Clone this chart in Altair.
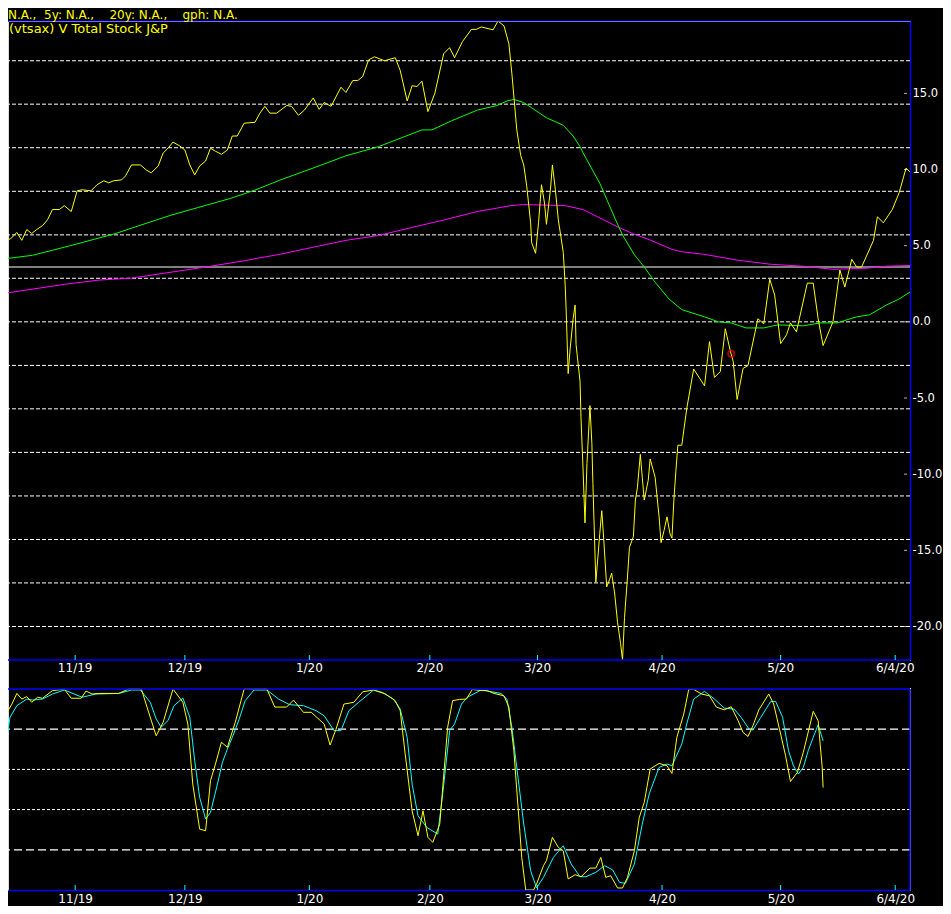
import altair as alt
import pandas as pd

# ---------------- data ----------------
# x unit: trading-session index (0 = left edge of the original chart, 160 = right edge)
PRICE_DAY = [0, 0.69, 1.74, 2.95, 3.82, 4.69, 5.56, 6.43, 7.47, 8.34, 9.21, 10.42, 11.29, 12.51, 13.55, 14.42,
             15.98, 17.03, 18.24, 19.11, 19.98, 21.37, 22.06, 23.11, 24.67, 25.71, 26.58, 27.80, 28.67, 29.53,
             30.40, 31.62, 32.49, 33.36, 34.22, 35.09, 36.14, 37.00, 37.87, 38.92, 39.96, 40.83, 41.70, 42.91,
             44.82, 45.69, 46.56, 47.43, 48.64, 50.38, 51.25, 52.47, 53.51, 55.07, 56.11, 56.98, 58.20, 59.94,
             60.81, 62.02, 62.89, 63.76, 64.80, 65.84, 67.58, 69.49, 70.36, 71.58, 72.45, 73.31, 74.18, 75.23,
             76.44, 78.00, 79.05, 79.92, 81.31, 82.87, 83.74, 84.61, 86.69, 87.56, 88.60, 89.47, 89.99, 90.86,
             91.56, 92.08, 92.60, 93.29, 93.47, 94.16, 94.68, 95.20, 95.73, 96.07, 96.77, 97.12, 97.64, 98.16,
             99.03, 99.37, 99.55, 99.89, 100.24, 100.76, 101.11, 101.28, 101.98, 102.15, 102.50, 102.85, 103.20,
             103.72, 104.06, 104.24, 104.76, 105.45, 105.80, 106.15, 106.67, 107.19, 107.54, 108.06, 108.58,
             109.10, 109.45, 109.80, 110.32, 110.67, 111.36, 111.71, 112.06, 112.58, 112.92, 113.27, 113.97,
             114.31, 115.18, 115.88, 116.23, 116.75, 117.27, 117.79, 118.14, 118.48, 118.83, 119.18, 119.87,
             120.74, 121.96, 123.87, 124.74, 125.61, 126.65, 127.52, 128.39, 128.91, 129.60, 130.64, 131.51,
             133.25, 134.29, 135.34, 136.20, 137.25, 138.29, 138.98, 140.03, 141.94, 142.98, 143.85, 144.72,
             146.45, 147.67, 148.54, 149.76, 150.62, 151.49, 153.58, 154.27, 155.31, 156.88, 158.09, 159.31, 160.0]
PRICE_VAL = [4.76, 5.67, 5.41, 5.87, 5.35, 6.06, 5.8, 6.06, 6.32, 6.7, 7.37, 7.37, 7.63, 7.24, 8.6, 8.67,
             8.6, 9.0, 9.26, 9.13, 9.26, 9.32, 9.58, 10.3, 10.3, 9.97, 9.78, 10.23, 11.08, 11.4,
             11.8, 11.54, 11.28, 10.3, 9.65, 10.23, 10.56, 11.4, 11.2, 11.0, 11.28, 12.2, 12.2, 13.04,
             13.1, 13.7, 14.15, 13.7, 13.7, 14.2, 14.15, 13.56, 13.9, 14.7, 13.95, 14.4, 14.15, 15.4,
             15.06, 15.84, 15.84, 16.1, 17.2, 17.4, 17.14, 17.34, 16.5, 14.5, 15.5, 15.45, 15.8, 13.8,
             15.0, 17.6, 18.0, 17.34, 18.4, 19.2, 19.2, 19.36, 19.17, 19.75, 19.43, 18.25, 16.3, 12.6,
             10.9, 10.3, 8.93, 6.5, 5.2, 4.5, 6.5, 9.0, 7.8, 6.4, 8.67, 10.3, 8.67, 6.7,
             4.56, 2.4, 0.65, -3.4, -1.76, 0.2, 1.1, -1.5, -3.9, -6.3, -9.6, -13.2, -9.3,
             -5.5, -8.0, -10.6, -17.1, -13.9, -12.4, -14.3, -17.4, -16.9, -16.5, -17.8, -19.75,
             -21.1, -22.2, -19.4, -16.75, -14.8, -14.1, -11.7, -10.9, -8.7, -10.2, -11.7, -10.4,
             -9.0, -10.2, -12.8, -14.5, -13.7, -12.8, -13.9, -14.2, -11.7, -9.8, -8.1, -8.1,
             -5.7, -3.1, -4.2, -1.3, -3.65, -3.26, -0.45, -1.9, -2.6, -5.1, -3.06, -2.87,
             0.2, -0.13, 2.8, 1.76, -1.43, -0.85, -0.07, -0.65, 2.54, 2.54, 0.2, -1.56,
             0.0, 3.4, 2.28, 4.1, 3.6, 3.6, 5.35, 6.9, 6.5, 7.37, 8.47, 10.1, 9.84]

MA_FAST_DAY = [0, 5.73, 9.21, 13.38, 17.37, 20.33, 24.32, 30.05, 34.75, 40.48, 43.43, 45.17, 49.17, 55.07,
               60.81, 66.54, 70.71, 74.18, 75.92, 79.39, 83.91, 87.39, 89.12, 90.34, 92.08, 96.07, 99.03,
               100.76, 101.98, 102.5, 105.45, 108.23, 109.45, 111.54, 113.27, 115.18, 117.62, 119.87, 123.87,
               126.30, 128.56, 131.16, 134.29, 136.73, 141.24, 144.20, 147.15, 150.62, 152.88, 155.84, 158.09, 160]
MA_FAST_VAL = [4.1, 4.37, 4.7, 5.1, 5.5, 5.8, 6.3, 7.0, 7.5, 8.1, 8.47, 8.7, 9.3, 10.1,
               10.9, 11.5, 12.1, 12.6, 12.6, 13.2, 13.9, 14.2, 14.5, 14.6, 14.4, 13.4, 12.9,
               12.2, 11.5, 11.1, 9.1, 6.7, 5.7, 4.4, 3.6, 2.6, 1.5, 0.8, 0.33,
               0.0, -0.07, -0.4, -0.4, -0.2, -0.26, -0.07, -0.07, 0.33, 0.46, 1.1, 1.5, 1.96]

MA_SLOW_DAY = [0, 5.73, 11.64, 17.37, 23.11, 29.01, 37.0, 43.43, 45.17, 49.17, 55.07, 60.81, 66.54, 72.45,
               78.18, 83.91, 89.82, 92.08, 99.37, 102.5, 108.23, 111.19, 114.14, 118.14, 119.87, 123.87,
               129.78, 135.51, 141.24, 146.45, 152.36, 155.84, 160]
MA_SLOW_VAL = [1.83, 2.15, 2.48, 2.74, 2.87, 3.2, 3.65, 4.04, 4.17, 4.43, 4.9, 5.35, 5.67, 6.2,
               6.7, 7.24, 7.63, 7.7, 7.63, 7.37, 6.3, 5.8, 5.4, 4.76, 4.6, 4.43,
               4.04, 3.78, 3.65, 3.45, 3.52, 3.65, 3.7]

REF_LEVEL = [3.6]
MARKER_DAY = [128.56]
MARKER_VAL = [-2.1]

PRICE_GRID = [-20.0, -17.14, -14.29, -11.43, -8.57, -5.71, -2.86, 0.0, 2.86, 5.71, 8.57, 11.43, 14.29, 17.14]
PRICE_TICKS = [-20, -15, -10, -5, 0, 5, 10, 15]

STOCH_K_DAY = [0, 0.87, 2.08, 2.95, 3.82, 4.69, 5.56, 6.60, 7.47, 9.21, 11.29, 12.51, 14.25, 15.11, 16.16,
               17.37, 20.85, 22.58, 24.84, 26.06, 27.45, 28.67, 30.40, 32.14, 33.01, 33.88, 35.09, 36.14,
               37.0, 37.87, 38.92, 39.96, 41.35, 42.91, 46.91, 48.30, 50.38, 51.60, 53.34, 54.72, 56.98,
               58.03, 59.07, 60.46, 62.20, 63.76, 65.67, 67.76, 69.49, 70.36, 71.23, 72.45, 73.49, 74.36,
               75.23, 76.09, 77.31, 78.70, 79.57, 80.78, 82.0, 83.04, 84.61, 85.65, 86.87, 88.6, 89.47,
               90.34, 91.21, 91.73, 92.43, 93.81, 94.34, 95.55, 96.07, 97.12, 98.16, 99.03, 99.89, 101.11,
               102.15, 103.72, 104.76, 105.63, 106.50, 107.37, 108.58, 109.45, 110.32, 111.53, 112.40,
               113.27, 114.31, 115.88, 117.27, 118.14, 119.0, 120.22, 121.09, 121.96, 123.35, 124.74,
               125.95, 127.34, 128.56, 129.78, 130.64, 131.51, 132.38, 133.42, 135.16, 136.03, 137.25,
               138.12, 138.98, 140.2, 141.24, 142.98, 143.85, 144.2, 144.54, 144.72]
STOCH_K_VAL = [69.3, 86.7, 92.5, 97.8, 95, 96.2, 93.4, 95.9, 95.4, 99.2, 99.9, 95.4, 95.4, 99, 97.5,
               97.8, 97.8, 100, 100, 89, 76.7, 83.4, 100, 93.4, 82.6, 52.7, 30.3, 29.5,
               54.4, 62.7, 73.5, 71, 83.4, 100, 100, 91, 91, 94.5, 88.4, 88.4, 82.6,
               72.1, 80, 92.5, 93.4, 98.6, 99.5, 97.5, 94.2, 89.2, 67.7, 39.4, 27, 39.4,
               26.2, 23.7, 32.8, 81, 94.2, 94.8, 95, 99.8, 99.2, 99.2, 97.8, 96.6, 91,
               69.3, 36.2, 16.2, 0, 0, 3, 12.1, 14.6, 26.2, 21.2, 19.5, 5.5, 7.6,
               6.6, 10.9, 10.9, 16.2, 6.3, 7.1, 1, 1, 6.3, 19.5, 36.2,
               43.6, 60.2, 63, 61.8, 58, 75.9, 87.6, 99.8, 99.8, 97.5, 96.6,
               91, 89.6, 91.2, 84.2, 78.4, 76.4, 81.7, 89.6, 97.5, 92.5, 77.6,
               66.8, 54, 58.5, 68.5, 88.9, 84.2, 72.6, 61.8, 51]

STOCH_D_DAY = [0, 0.87, 1.74, 2.95, 4.69, 5.73, 7.47, 9.21, 11.29, 14.42, 16.85, 20.85, 23.11, 24.67,
               26.41, 27.45, 28.32, 29.53, 30.58, 32.14, 33.36, 34.22, 35.09, 36.14, 37.0, 38.22, 39.09,
               39.96, 40.83, 42.04, 43.09, 44.65, 46.91, 48.99, 50.9, 53.34, 55.59, 56.98, 58.72, 59.94,
               61.33, 63.06, 65.67, 67.23, 69.14, 70.36, 71.58, 72.45, 73.49, 75.05, 76.96, 77.83, 79.05,
               79.92, 81.13, 82.17, 84.61, 88.08, 89.12, 89.99, 91.21, 92.08, 93.29, 94.34, 95.55, 97.29,
               99.03, 100.42, 101.98, 103.02, 104.76, 106.32, 107.71, 108.93, 109.97, 111.53, 112.92,
               114.14, 115.88, 117.27, 118.14, 119.87, 120.74, 121.96, 123.87, 125.61, 127.34, 129.08,
               130.3, 131.69, 132.38, 133.77, 135.51, 136.38, 137.6, 138.64, 139.5, 140.37, 141.24,
               142.11, 142.98, 143.85, 144.72]
STOCH_D_VAL = [49.8, 69.3, 85.9, 91.7, 95, 94.5, 95, 97.5, 99.5, 95.9, 97.5, 97.8, 99.5, 99.5,
               93.4, 85.1, 81, 84.3, 91.7, 95.5, 85.9, 64.3, 46.1, 35.3, 38.6, 52.7, 63.5,
               70.1, 75.9, 85, 94.2, 99.5, 99.5, 95, 92.2, 91.7, 89.2, 86.7, 79.3, 79.3,
               89.2, 93.4, 99.5, 98.3, 95, 90, 75.9, 52.7, 36.9, 31.1, 27.8, 47.8, 79.3,
               82.6, 92.5, 95.9, 99.5, 97.8, 95, 81, 52.7, 32.8, 9.6, 1, 6.3, 16.2,
               22, 12.9, 6.6, 6.6, 8.8, 12.1, 10, 3.8, 3.3, 12.9, 32.8,
               47.8, 61, 62.7, 61.8, 72.6, 82.6, 95, 98.8, 95, 90.5, 90,
               85.9, 80.1, 79.6, 85.9, 93.8, 93.8, 85.9, 69.3, 61.8, 57.7, 61,
               69.3, 75.9, 82.2, 74.2]

STOCH_BANDS = [80, 20]
STOCH_MIDS = [60, 40]

MONTH_TICK_DAY = [13.2, 32.49, 54.38, 75.57, 94.51, 116.4, 137.25, 157.4]
MONTH_TICK_LABEL = ["11/19", "12/19", "1/20", "2/20", "3/20", "4/20", "5/20", "6/4/20"]

NB = "\u00a0"
HEADER_1 = ["N.A.," + NB * 2 + "5y: N.A.," + NB * 4 + "20y: N.A.," + NB * 4 + "gph: N.A."]
HEADER_2 = ["(vtsax) V Total Stock J&P"]

# ---------------- layout / style ----------------
W = 902            # plot width (one plot area holding both panels)
H = 869            # plot height
TOP_H = 639        # price panel occupies 0..639
BOT_Y0 = 668       # oscillator panel occupies 668..869
BLUE = "#0000ff"
FONT = "DejaVu Sans"

xs = alt.Scale(domain=[1.39, 160], nice=False, zero=False)
ys_top = alt.Scale(domain=[-22.2, 19.75], range=[TOP_H, 0], nice=False, zero=False)
ys_bot = alt.Scale(domain=[0, 100], range=[H, BOT_Y0], nice=False, zero=False)

label_expr = "''"
for d, lab in reversed(list(zip(MONTH_TICK_DAY, MONTH_TICK_LABEL))):
    label_expr = f"abs(datum.value - {d}) < 0.5 ? '{lab}' : ({label_expr})"

x_axis = alt.Axis(orient="bottom", values=MONTH_TICK_DAY, labelExpr=label_expr, ticks=False, tickSize=0,
                  grid=False, domainColor=BLUE, domainWidth=1.5, labelColor="white", labelFont=FONT,
                  labelFontSize=12, labelPadding=3, labelFlush=False, labelOverlap=False, title=None)
y_axis_top = alt.Axis(orient="right", values=PRICE_TICKS,
                      labelExpr="datum.value < 0 ? '-' + format(-datum.value, '.1f') : format(datum.value, '.1f')",
                      ticks=False, tickSize=0, grid=False, domainColor=BLUE, domainWidth=1.5,
                      labelColor="white", labelFont=FONT, labelFontSize=11.5, labelPadding=2, title=None)

X = lambda f: alt.X(f"{f}:Q", scale=xs, axis=x_axis)
YT = lambda f, ax=None: (alt.Y(f"{f}:Q", scale=ys_top, axis=ax) if ax is not None
                          else alt.Y(f"{f}:Q", scale=ys_top, axis=None))
YB = lambda f: alt.Y(f"{f}:Q", scale=ys_bot, axis=None)

df_price = pd.DataFrame({"d": PRICE_DAY, "v": PRICE_VAL})
df_fast = pd.DataFrame({"d": MA_FAST_DAY, "v": MA_FAST_VAL})
df_slow = pd.DataFrame({"d": MA_SLOW_DAY, "v": MA_SLOW_VAL})
df_ref = pd.DataFrame({"v": REF_LEVEL})
df_marker = pd.DataFrame({"d": MARKER_DAY, "v": MARKER_VAL})
df_grid = pd.DataFrame({"v": PRICE_GRID})
df_yt = pd.DataFrame({"v": PRICE_TICKS})
df_mt = pd.DataFrame({"d": MONTH_TICK_DAY, "lab": MONTH_TICK_LABEL})
df_k = pd.DataFrame({"d": STOCH_K_DAY, "v": STOCH_K_VAL})
df_dd = pd.DataFrame({"d": STOCH_D_DAY, "v": STOCH_D_VAL})
df_bands = pd.DataFrame({"v": STOCH_BANDS})
df_mids = pd.DataFrame({"v": STOCH_MIDS})
df_h1 = pd.DataFrame({"t": HEADER_1})
df_h2 = pd.DataFrame({"t": HEADER_2})
df_one = pd.DataFrame({"a": [0]})

# ---------------- price panel ----------------
grid = alt.Chart(df_grid).mark_rule(color="white", strokeDash=[4, 2], strokeWidth=1).encode(
    y=YT("v", y_axis_top))
ref = alt.Chart(df_ref).mark_rule(color="white", strokeWidth=1.2).encode(y=YT("v"))
slow = alt.Chart(df_slow).mark_line(color="#ff00ff", strokeWidth=1, clip=True).encode(x=X("d"), y=YT("v"))
fast = alt.Chart(df_fast).mark_line(color="#00ff00", strokeWidth=1, clip=True).encode(x=X("d"), y=YT("v"))
price = alt.Chart(df_price).mark_line(color="#ffff00", strokeWidth=1, clip=True).encode(x=X("d"), y=YT("v"))
marker = alt.Chart(df_marker).mark_point(shape="circle", filled=False, color="#ff0000", size=40,
                                          strokeWidth=1.6).encode(x=X("d"), y=YT("v"))
ytick = alt.Chart(df_yt).mark_tick(color="white", thickness=1, size=3, orient="horizontal").encode(
    x=alt.value(W - 4.5), y=YT("v"))

# ---------------- oscillator panel ----------------
bands = alt.Chart(df_bands).mark_rule(color="white", strokeDash=[8, 4], strokeWidth=1.2).encode(y=YB("v"))
mids = alt.Chart(df_mids).mark_rule(color="white", strokeDash=[3, 2], strokeWidth=1).encode(y=YB("v"))
dline = alt.Chart(df_dd).mark_line(color="#00ffff", strokeWidth=1, clip=True).encode(x=X("d"), y=YB("v"))
kline = alt.Chart(df_k).mark_line(color="#ffff00", strokeWidth=1, clip=True).encode(x=X("d"), y=YB("v"))

# ---------------- frame, ticks, texts ----------------
gap_cover = alt.Chart(df_one).mark_rule(color="black", strokeWidth=5).encode(
    x=alt.value(W + 1), y=alt.value(TOP_H + 1), y2=alt.value(BOT_Y0 - 1))
line_top = alt.Chart(df_one).mark_rule(color=BLUE, strokeWidth=1).encode(y=alt.value(0))
line_mid1 = alt.Chart(df_one).mark_rule(color=BLUE, strokeWidth=1.5).encode(y=alt.value(TOP_H))
line_mid2 = alt.Chart(df_one).mark_rule(color=BLUE, strokeWidth=1.5).encode(y=alt.value(BOT_Y0))
line_right = alt.Chart(df_one).mark_rule(color=BLUE, strokeWidth=1.5).encode(
    x=alt.value(W), y=alt.value(BOT_Y0), y2=alt.value(H))
mtick_top = alt.Chart(df_mt).mark_rule(color="#00ffff", strokeWidth=1).encode(
    x=X("d"), y=alt.value(TOP_H - 5), y2=alt.value(TOP_H))
mtick_bot = alt.Chart(df_mt).mark_rule(color="#00ffff", strokeWidth=1).encode(
    x=X("d"), y=alt.value(H - 5), y2=alt.value(H))
mid_labels = alt.Chart(df_mt).mark_text(color="white", font=FONT, fontSize=12, baseline="top",
                                        align="center").encode(x=X("d"), y=alt.value(TOP_H + 3), text="lab:N")
h1 = alt.Chart(df_h1).mark_text(align="left", baseline="alphabetic", color="#ffff00", font=FONT,
                                fontSize=12).encode(x=alt.value(0), y=alt.value(-2.5), text="t:N")
h2 = alt.Chart(df_h2).mark_text(align="left", baseline="middle", color="#ffff00", font=FONT,
                                fontSize=13).encode(x=alt.value(1), y=alt.value(8), text="t:N")

chart = alt.layer(
    grid, ref, bands, mids, slow, fast, price, marker, dline, kline, gap_cover,
    line_top, line_mid1, line_mid2, line_right, mtick_top, mtick_bot, ytick, mid_labels, h1, h2,
).resolve_scale(y="independent").properties(
    width=W, height=H,
    background="black",
    autosize=alt.AutoSizeParams(type="none"),
    padding={"left": 0, "top": 13, "right": 33, "bottom": 16},
).configure_view(stroke="transparent").configure(font=FONT)

chart.save("out.html", embed_options={"renderer": "svg", "actions": False})
